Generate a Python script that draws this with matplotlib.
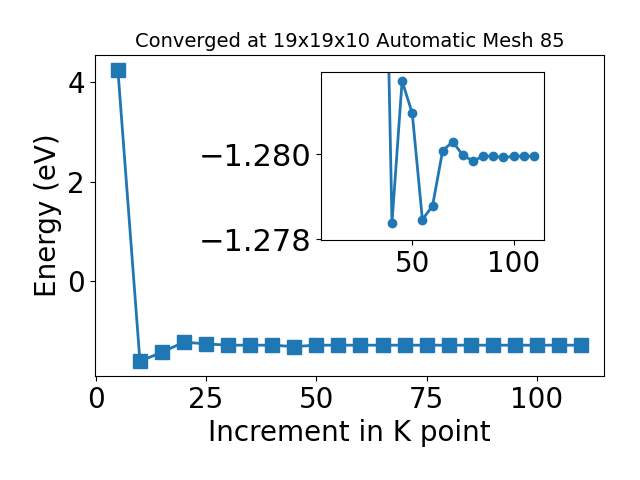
import numpy as np
import matplotlib
matplotlib.use('Agg')
import matplotlib.pyplot as plt

kpoints = [5, 10, 15, 20, 25, 30, 35, 40, 45, 50, 55, 60, 65, 70, 75, 80,
           85, 90, 95, 100, 105, 110]
energies = [4.25, -1.602, -1.42, -1.218, -1.253, -1.279, -1.279, -1.279,
            -1.307, -1.279, -1.279, -1.279, -1.279, -1.279, -1.279, -1.279,
            -1.279, -1.279, -1.279, -1.279, -1.279, -1.279]

# inset: fine detail of the converged tail
inset_kpoints = [35, 40, 45, 50, 55, 60, 65, 70, 75, 80, 85, 90, 95, 100,
                 105, 110]
inset_energies = [-1.2902, -1.27838, -1.28172, -1.28096, -1.27846, -1.27878,
                  -1.28008, -1.28029, -1.27997, -1.27984, -1.27995, -1.27995,
                  -1.27992, -1.27995, -1.27995, -1.27995]
title = 'Converged at 19x19x10 Automatic Mesh 85'

fig = plt.figure(figsize=(6.4, 4.8), dpi=100)
ax = fig.add_axes([0.148, 0.217, 0.796, 0.668])
ax.plot(kpoints, energies, marker='s', markersize=10, linewidth=2)
ax.set_title(title, fontsize=14)
ax.set_xlabel('Increment in K point', fontsize=20)
ax.set_ylabel('Energy (eV)', fontsize=20)
ax.tick_params(labelsize=20)
ax.set_xticks([0, 25, 50, 75, 100])
ax.set_yticks([0, 2, 4])

ins = fig.add_axes([0.5016, 0.5, 0.3484, 0.35])
ins.plot(inset_kpoints, inset_energies, marker='o', markersize=6, linewidth=2)
ins.set_xlim(5, 115)
ins.set_ylim(-1.27798, -1.28193)
ins.set_xticks([50, 100])
ins.set_yticks([-1.280, -1.278])
ins.set_yticklabels(['\u22121.280', '\u22121.278'])
ins.tick_params(axis='x', labelsize=20)
ins.tick_params(axis='y', labelsize=22)

plt.savefig('out.png')
